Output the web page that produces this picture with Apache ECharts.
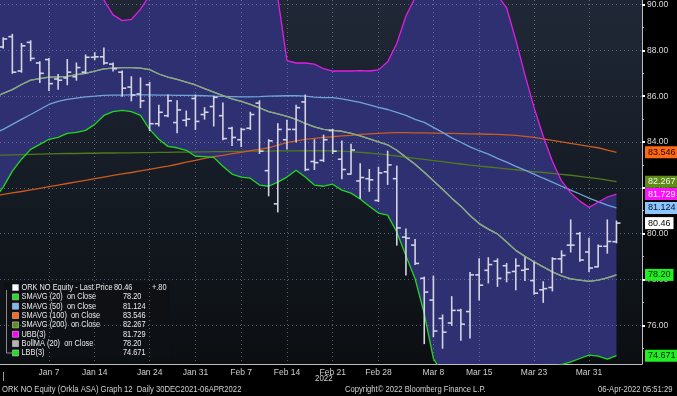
<!DOCTYPE html>
<html><head><meta charset="utf-8">
<script src="https://cdn.jsdelivr.net/npm/echarts@6/dist/echarts.min.js"></script>
<style>html,body{margin:0;padding:0;background:#000;}#c{width:677px;height:396px;}</style>
</head><body><div id="c"></div>
<script>
// ---- trading days (Dec 29 is only a lead-in point for the indicator lines) ----
const dates = ['2021-12-29','2021-12-30',
 '2022-01-03','2022-01-04','2022-01-05','2022-01-06','2022-01-07','2022-01-10','2022-01-11','2022-01-12','2022-01-13','2022-01-14',
 '2022-01-17','2022-01-18','2022-01-19','2022-01-20','2022-01-21','2022-01-24','2022-01-25','2022-01-26','2022-01-27','2022-01-28','2022-01-31',
 '2022-02-01','2022-02-02','2022-02-03','2022-02-04','2022-02-07','2022-02-08','2022-02-09','2022-02-10','2022-02-11','2022-02-14',
 '2022-02-15','2022-02-16','2022-02-17','2022-02-18','2022-02-21','2022-02-22','2022-02-23','2022-02-24','2022-02-25','2022-02-28',
 '2022-03-01','2022-03-02','2022-03-03','2022-03-04','2022-03-07','2022-03-08','2022-03-09','2022-03-10','2022-03-11','2022-03-14',
 '2022-03-15','2022-03-16','2022-03-17','2022-03-18','2022-03-21','2022-03-22','2022-03-23','2022-03-24','2022-03-25','2022-03-28',
 '2022-03-29','2022-03-30','2022-03-31','2022-04-01','2022-04-04','2022-04-05'];

const tickDates  = ['2022-01-07','2022-01-14','2022-01-24','2022-01-31','2022-02-07','2022-02-14','2022-02-21','2022-02-28','2022-03-08','2022-03-15','2022-03-23','2022-03-31'];
const tickLabels = ['Jan 7','Jan 14','Jan 24','Jan 31','Feb 7','Feb 14','Feb 21','Feb 28','Mar 8','Mar 15','Mar 23','Mar 31'];
const priceTicks = [76,78,80,82,84,86,88,90];
const minorPriceTicks = [75,77,79,81,83,85,87,89];

// ---- OHLC (Dec 29 has no bar) ----
const open = [null,
 88.15,88.6,87.1,88.35,87.45,87.6,86.75,86.8,86.85,87.05,
 87.7,87.72,87.4,87.05,86.4,86.1,86.5,84.8,85.15,84.85,
 84.95,85.9,85.2,85.55,85.15,84.6,84.1,84.6,85.7,82.75,
 81.3,84.1,84.55,85.75,83.15,83.2,84.5,83.25,82.6,82.3,
 82.4,81.45,82.7,82.4,79.85,79.5,78.05,77.1,76.3,76.1,
 76.65,76.6,78.2,78.4,78.8,78.6,78.35,78.4,77.95,77.55,
 77.65,78.9,79.5,80.0,79.2,78.55,79.45,79.65];
const high = [null,
 88.55,88.7,88.3,88.42,87.5,87.65,86.95,87.6,87.45,87.8,
 87.9,88.1,87.45,87.1,86.85,86.8,86.6,85.6,86.05,85.8,
 85.35,86.05,85.5,86.0,85.7,84.65,84.6,85.3,85.8,84.1,
 84.8,84.95,85.6,86.05,84.1,84.3,84.55,84.05,83.9,83.05,
 82.8,82.9,83.6,82.95,80.2,79.75,78.1,78.15,76.45,77.25,
 76.7,78.3,78.9,78.95,78.9,78.7,78.9,78.95,78.75,77.9,
 78.95,79.25,80.6,80.05,79.8,79.5,80.6,80.55];
const low = [null,
 88.1,87.0,87.05,87.55,86.6,86.25,86.3,86.5,86.7,87.0,
 87.6,87.4,87.1,86.0,85.8,85.5,84.5,84.7,85.1,84.4,
 84.7,84.55,85.0,84.7,84.1,83.85,83.8,84.55,83.5,81.65,
 80.95,83.7,84.0,82.75,82.8,83.15,83.5,82.4,82.6,81.55,
 81.85,81.4,82.15,79.5,78.2,78.65,75.2,75.5,75.0,76.0,
 75.35,75.45,77.1,77.85,77.7,77.9,77.55,77.95,77.35,77.0,
 77.5,78.3,79.2,78.8,78.35,78.55,79.15,79.6];
const close = [null,
 88.5,87.05,88.2,87.65,87.0,86.55,86.7,87.05,87.25,87.7,
 87.72,87.45,87.2,86.35,86.05,85.8,84.8,85.3,85.8,85.4,
 85.0,84.9,85.3,85.95,84.15,84.2,84.55,85.2,83.6,84.05,
 84.55,84.55,85.5,82.8,83.1,84.1,83.6,82.8,83.65,82.45,
 82.35,82.65,83.0,80.25,79.8,78.7,77.45,75.75,75.7,76.65,
 76.05,78.2,77.75,78.65,78.05,78.3,78.6,78.45,77.4,77.6,
 78.9,79.05,79.5,78.85,78.5,79.45,79.66,80.46];

// ---- indicators ----
const sma20 = [85.94,86.12,86.29,86.51,86.7,86.77,86.83,86.84,86.87,86.94,
 87.0,87.1,87.19,87.23,87.25,87.25,87.23,87.16,86.97,86.83,
 86.73,86.62,86.49,86.33,86.18,86.03,85.88,85.77,85.64,85.49,
 85.33,85.23,85.12,84.99,84.81,84.66,84.55,84.51,84.47,84.38,
 84.27,84.14,84.01,83.88,83.64,83.33,83.03,82.68,82.31,81.94,
 81.55,81.2,80.79,80.44,80.2,79.99,79.64,79.27,79.01,78.77,
 78.55,78.33,78.16,78.03,77.97,77.92,77.97,78.07,78.20];
const sma50 = [84.38,84.55,84.77,84.99,85.2,85.42,85.64,85.77,85.86,85.92,
 85.97,86.0,86.04,86.05,86.05,86.06,86.06,86.06,86.05,86.05,
 86.04,86.04,86.03,86.02,86.0,85.99,85.98,85.97,85.97,85.98,
 86.0,86.01,86.02,86.02,86.0,85.96,85.94,85.94,85.88,85.81,
 85.73,85.62,85.51,85.42,85.29,85.16,84.99,84.86,84.64,84.42,
 84.18,83.99,83.79,83.62,83.47,83.29,83.12,82.94,82.77,82.6,
 82.42,82.25,82.07,81.9,81.73,81.55,81.4,81.25,81.124];
const sma100 = [81.64,81.71,81.78,81.84,81.91,81.98,82.05,82.12,82.19,82.26,
 82.33,82.4,82.47,82.54,82.61,82.67,82.74,82.81,82.88,82.95,
 83.03,83.12,83.2,83.29,83.36,83.42,83.49,83.55,83.62,83.68,
 83.75,83.86,83.97,84.05,84.12,84.16,84.2,84.23,84.27,84.29,
 84.33,84.36,84.38,84.4,84.41,84.41,84.4,84.4,84.39,84.38,
 84.38,84.37,84.36,84.35,84.34,84.33,84.31,84.29,84.25,84.2,
 84.14,84.07,84.01,83.94,83.88,83.81,83.75,83.65,83.546];
const sma200 = [83.42,83.43,83.44,83.45,83.46,83.47,83.48,83.49,83.5,83.5,
 83.51,83.51,83.52,83.52,83.53,83.53,83.54,83.54,83.55,83.55,
 83.56,83.56,83.57,83.57,83.58,83.58,83.59,83.59,83.6,83.6,
 83.6,83.61,83.61,83.61,83.62,83.62,83.62,83.61,83.6,83.58,
 83.55,83.52,83.48,83.44,83.39,83.34,83.29,83.24,83.19,83.14,
 83.09,83.04,82.99,82.95,82.91,82.87,82.83,82.79,82.75,82.71,
 82.67,82.63,82.59,82.55,82.5,82.45,82.4,82.34,82.267];
const ubb = [90.6,90.7,90.8,90.9,91.0,91.0,91.0,90.9,90.8,90.7,
 90.55,90.4,90.2,89.55,89.3,89.35,89.8,90.4,90.8,91.0,
 91.1,91.2,91.2,91.1,91.0,91.0,90.9,90.8,90.7,90.6,
 90.5,90.3,87.55,87.45,87.45,87.4,87.2,87.1,87.1,87.1,
 87.12,87.1,87.15,87.5,88.3,89.5,90.3,91.0,91.5,91.6,
 91.5,91.3,91.0,90.8,90.6,90.4,89.86,88.46,86.93,85.5,
 84.25,83.16,82.3,81.78,81.42,81.15,81.37,81.6,81.729];
const bollMA = sma20.slice();
const lbb = [81.5,82.03,82.73,83.25,83.68,83.9,84.12,84.2,84.38,84.42,
 84.51,84.77,85.16,85.33,85.38,85.33,85.16,84.55,84.12,83.81,
 83.75,83.64,83.38,83.36,83.33,82.94,82.6,82.47,82.42,82.12,
 82.07,82.25,82.47,82.77,82.47,82.12,82.07,82.16,81.9,81.77,
 81.51,81.2,80.9,80.81,80.07,79.03,78.03,76.51,74.55,73.9,
 73.6,73.4,73.3,73.3,73.35,73.45,73.55,73.7,73.85,74.0,
 74.1,74.2,74.28,74.4,74.55,74.7,74.65,74.52,74.671];

// ---- rendering ----
const FONT = "'Liberation Sans',Arial,sans-serif";
const SX = 0.82;
const last = dates.length - 1;
const tickIdx = tickDates.map(d => dates.indexOf(d));
const pairs = arr => arr.map((v, k) => [k, v]);
const ohlc = dates.map((d, k) => open[k] == null ? null : [k, open[k], high[k], low[k], close[k]]).filter(Boolean);

function lineSeries(name, arr, color, z) {
  return { name, type: 'line', data: pairs(arr), showSymbol: false, symbol: 'none', z: z || 5,
    lineStyle: { color, width: 1.3 }, animation: false, clip: true, silent: true };
}
// right-axis value tags: [value, decimals, background, text colour]
const tags = [
  [sma100[last], 3, '#ff6a10', '#1a0800'],
  [sma200[last], 3, '#5e8c14', '#f2f2f2'],
  [ubb[last], 3, '#ff10ff', '#ffffff'],
  [sma50[last], 3, '#8cc6ff', '#06101e'],
  [close[last], 2, '#ffffff', '#000000'],
  [sma20[last], 2, '#22ee22', '#052005'],
  [lbb[last], 3, '#22ee22', '#052005']
];

const legendRows = [
  ['ORK NO Equity - Last Price', '#ffffff', close[last], 2],
  ['SMAVG (20)  on Close', '#1ee01e', sma20[last], 2],
  ['SMAVG (50)  on Close', '#7ab8f0', sma50[last], 3],
  ['SMAVG (100)  on Close', '#ff6a10', sma100[last], 3],
  ['SMAVG (200)  on Close', '#5e8c14', sma200[last], 3],
  ['UBB(3)', '#ff00ff', ubb[last], 3],
  ['BollMA (20)  on Close', '#b4b4b4', bollMA[last], 2],
  ['LBB(3)', '#1ee01e', lbb[last], 3]
];
const chg = close[last] - close[last - 1];
const chgText = (chg >= 0 ? '+' : '-') + Math.abs(chg).toFixed(2).replace(/^0/, '');

const txt = (x, y, text) => ({ type: 'text', x, y, scaleX: SX,
  style: { text, fill: '#ececec', font: '9px ' + FONT, textVerticalAlign: 'middle' } });

const legendChildren = [
  { type: 'rect', shape: { x: 0, y: 0, width: 166, height: 75 }, style: { fill: 'rgba(14,16,20,0.93)' } },
  { type: 'line', shape: { x1: 2.5, y1: 8, x2: 2.5, y2: 71 }, style: { stroke: '#8a8a8a', lineWidth: 1 } },
  { type: 'line', shape: { x1: 2.5, y1: 71, x2: 8, y2: 71 }, style: { stroke: '#8a8a8a', lineWidth: 1 } }
];
legendRows.forEach((r, k) => {
  const cy = 5.5 + k * 9.35;
  legendChildren.push({ type: 'rect', shape: { x: 8.5, y: cy - 3, width: 6, height: 6 }, style: { fill: r[1], stroke: '#e0e0e0', lineWidth: 0.5 } });
  legendChildren.push(txt(17.5, cy, r[0]));
  legendChildren.push(txt(k === 0 ? 110 : 119, cy, r[2].toFixed(r[3])));
});
legendChildren.push(txt(148, 5.5, chgText));

const axisY = {
  type: 'value', position: 'right', min: 74.31, max: 90.2, z: 3
};
const option = {
  backgroundColor: '#000000',
  animation: false,
  textStyle: { fontFamily: FONT },
  grid: { left: 0, right: 35, top: 0, bottom: 32, show: true, borderWidth: 0,
    backgroundColor: { type: 'linear', x: 0, y: 0, x2: 0, y2: 1,
      colorStops: [{ offset: 0, color: '#202837' }, { offset: 1, color: '#0b0f12' }] } },
  xAxis: {
    type: 'value', min: 0.65, max: 70.79, z: 3,
    axisLine: { show: true, onZero: false, lineStyle: { color: '#bdbdbd', width: 1 } },
    axisTick: { show: false, customValues: tickIdx },
    axisLabel: { customValues: tickIdx, color: '#cfcfcf', fontSize: 8.5, fontFamily: FONT, margin: 4,
      formatter: v => tickLabels[tickIdx.indexOf(Math.round(v))] || '' },
    splitLine: { show: true, lineStyle: { color: 'rgba(150,160,178,0.55)', type: [1, 3], width: 1 } }
  },
  yAxis: [
    Object.assign({}, axisY, {
      axisLine: { show: true, lineStyle: { color: '#bdbdbd', width: 1 } },
      axisTick: { show: true, length: 3, customValues: priceTicks, lineStyle: { color: '#ffffff', width: 2 } },
      axisLabel: { customValues: priceTicks, color: '#dcdcdc', fontSize: 8.5, fontFamily: FONT, margin: 5,
        formatter: v => v.toFixed(2) },
      splitLine: { show: true, lineStyle: { color: 'rgba(150,160,178,0.55)', type: [1, 3], width: 1 } }
    }),
    Object.assign({}, axisY, {
      axisLine: { show: false },
      axisTick: { show: true, length: 2, customValues: minorPriceTicks, lineStyle: { color: '#bdbdbd', width: 1 } },
      axisLabel: { show: false },
      splitLine: { show: false }
    })
  ],
  series: [
    { name: 'band', type: 'custom', z: 1, clip: true, silent: true, animation: false,
      data: [[1]],
      renderItem: (params, api) => {
        const pts = [];
        for (let k = 0; k < dates.length; k++) pts.push(api.coord([k, ubb[k]]));
        for (let k = dates.length - 1; k >= 0; k--) pts.push(api.coord([k, lbb[k]]));
        return { type: 'polygon', shape: { points: pts }, style: { fill: '#2e3071' } };
      } },
    lineSeries('BollMA (20)', bollMA, '#a8a8a8', 4),
    lineSeries('SMAVG (200)', sma200, '#4f7a1c'),
    lineSeries('SMAVG (100)', sma100, '#cc5a1e'),
    lineSeries('SMAVG (50)', sma50, '#6ea6da'),
    lineSeries('SMAVG (20)', sma20, '#84a97f'),
    lineSeries('UBB(3)', ubb, '#e21ee2'),
    lineSeries('LBB(3)', lbb, '#22d622'),
    { name: 'ORK NO Equity', type: 'custom', z: 6, animation: false, clip: true, silent: true,
      data: ohlc, encode: { x: 0, y: [1, 2, 3, 4] },
      renderItem: (params, api) => {
        const x = api.value(0);
        const pO = api.coord([x, api.value(1)]), pH = api.coord([x, api.value(2)]);
        const pL = api.coord([x, api.value(3)]), pC = api.coord([x, api.value(4)]);
        const st = { stroke: '#d4d5e4', lineWidth: 1.6 };
        return { type: 'group', children: [
          { type: 'line', shape: { x1: pH[0], y1: pH[1] - 0.5, x2: pL[0], y2: pL[1] + 0.5 }, style: st },
          { type: 'line', shape: { x1: pO[0] - 4, y1: pO[1], x2: pO[0], y2: pO[1] }, style: st },
          { type: 'line', shape: { x1: pC[0], y1: pC[1], x2: pC[0] + 4, y2: pC[1] }, style: st }
        ] };
      } },
    { name: 'tags', type: 'line', data: [], z: 10, clip: false, silent: true, animation: false,
      markLine: {
        symbol: 'none', silent: true, animation: false,
        lineStyle: { width: 0, color: 'rgba(0,0,0,0)' },
        data: tags.map(t => ({ yAxis: t[0],
          label: { show: true, position: 'end', distance: 3, formatter: () => t[0].toFixed(t[1]),
            backgroundColor: t[2], color: t[3], padding: [1, 3, 0, 3], fontSize: 9, fontFamily: FONT, lineHeight: 11 } }))
      } }
  ],
  graphic: [
    { type: 'group', left: 4, top: 282, z: 20, children: legendChildren },
    { type: 'text', x: 315, y: 379, z: 20, scaleX: 0.88, style: { text: '2022', fill: '#cfcfcf', font: '9px ' + FONT, textVerticalAlign: 'middle' } },
    { type: 'line', z: 20, shape: { x1: 3.5, y1: 372, x2: 3.5, y2: 381 }, style: { stroke: '#9a9a9a', lineWidth: 1 } },
    { type: 'text', x: 2, y: 390, z: 20, scaleX: 0.85, style: { text: 'ORK NO Equity (Orkla ASA) Graph 12  Daily 30DEC2021-06APR2022', fill: '#d2d2d2', font: '9px ' + FONT, textVerticalAlign: 'middle' } },
    { type: 'text', x: 345, y: 390, z: 20, scaleX: 0.85, style: { text: 'Copyright\u00A9 2022 Bloomberg Finance L.P.', fill: '#d2d2d2', font: '9px ' + FONT, textVerticalAlign: 'middle' } },
    { type: 'text', x: 598, y: 390, z: 20, scaleX: 0.85, style: { text: '06-Apr-2022 05:51:29', fill: '#d2d2d2', font: '9px ' + FONT, textVerticalAlign: 'middle' } }
  ]
};
const chart = echarts.init(document.getElementById('c'));
chart.setOption(option);
</script>
</body></html>
